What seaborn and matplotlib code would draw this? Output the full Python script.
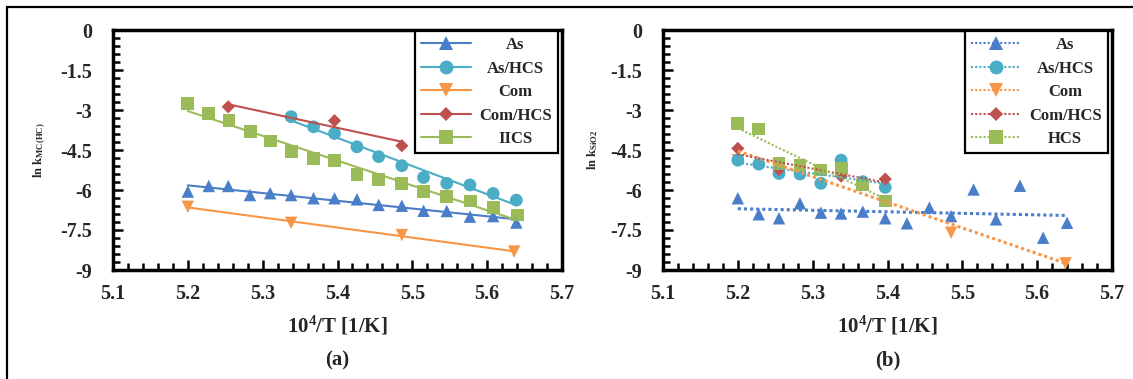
import numpy as np
import matplotlib
matplotlib.use("Agg")
import matplotlib.pyplot as plt
import seaborn as sns
from matplotlib.lines import Line2D
from matplotlib.patches import Rectangle
from matplotlib.ticker import MultipleLocator

# ---------------- data ----------------
series_names = ["As", "As/HCS", "Com", "Com/HCS", "HCS"]
legend_labels_a = ["As", "As/HCS", "Com", "Com/HCS", "IICS"]
legend_labels_b = ["As", "As/HCS", "Com", "Com/HCS", "HCS"]

# panel (a)
a_as_x = [5.200, 5.228, 5.254, 5.283, 5.310, 5.338, 5.368, 5.396, 5.426, 5.455, 5.486, 5.515, 5.546, 5.577, 5.608, 5.639]
a_as_y = [-6.06, -5.85, -5.85, -6.19, -6.12, -6.19, -6.31, -6.31, -6.35, -6.56, -6.59, -6.78, -6.79, -7.00, -6.98, -7.22]
a_ashcs_x = [5.338, 5.368, 5.396, 5.426, 5.455, 5.486, 5.515, 5.546, 5.577, 5.608, 5.639]
a_ashcs_y = [-3.25, -3.63, -3.88, -4.38, -4.75, -5.09, -5.53, -5.75, -5.81, -6.13, -6.38]
a_com_x = [5.200, 5.338, 5.486, 5.636]
a_com_y = [-6.63, -7.23, -7.69, -8.31]
a_comhcs_x = [5.254, 5.396, 5.486]
a_comhcs_y = [-2.88, -3.40, -4.34]
a_hcs_x = [5.200, 5.228, 5.255, 5.284, 5.310, 5.339, 5.368, 5.396, 5.426, 5.455, 5.486, 5.515, 5.546, 5.578, 5.608, 5.640]
a_hcs_y = [-2.75, -3.13, -3.40, -3.81, -4.16, -4.56, -4.81, -4.90, -5.41, -5.60, -5.75, -6.06, -6.25, -6.41, -6.65, -6.94]

# panel (b)
b_as_x = [5.200, 5.228, 5.255, 5.283, 5.311, 5.338, 5.367, 5.397, 5.426, 5.456, 5.485, 5.515, 5.545, 5.577, 5.608, 5.640]
b_as_y = [-6.31, -6.91, -7.06, -6.50, -6.85, -6.88, -6.81, -7.06, -7.25, -6.66, -6.98, -5.98, -7.10, -5.84, -7.79, -7.23]
b_ashcs_x = [5.200, 5.228, 5.255, 5.283, 5.311, 5.338, 5.367, 5.397]
b_ashcs_y = [-4.88, -5.03, -5.38, -5.40, -5.75, -4.88, -5.69, -5.90]
b_com_x = [5.200, 5.338, 5.485, 5.638]
b_com_y = [-4.88, -5.20, -7.60, -8.75]
b_comhcs_x = [5.200, 5.255, 5.338, 5.397]
b_comhcs_y = [-4.44, -5.23, -5.48, -5.59]
b_hcs_x = [5.200, 5.228, 5.255, 5.283, 5.311, 5.338, 5.367, 5.397]
b_hcs_y = [-3.50, -3.71, -5.00, -5.09, -5.25, -5.19, -5.81, -6.41]

x_ticks = [5.1, 5.2, 5.3, 5.4, 5.5, 5.6, 5.7]
y_ticks = [0, -1.5, -3, -4.5, -6, -7.5, -9]
y_ticklabels = ["0", "-1.5", "-3", "-4.5", "-6", "-7.5", "-9"]

# ---------------- style ----------------
sns.set_theme(style="white")
plt.rcParams["font.family"] = ["Liberation Serif", "DejaVu Serif"]
plt.rcParams["font.weight"] = "bold"
plt.rcParams["mathtext.fontset"] = "custom"
plt.rcParams["mathtext.rm"] = "Liberation Serif:bold"
plt.rcParams["mathtext.bf"] = "Liberation Serif:bold"
plt.rcParams["mathtext.it"] = "Liberation Serif:bold"

colors = ["#4A7EC9", "#4BACC6", "#F79646", "#C0504D", "#9BBB59"]
markers = ["^", "o", "v", "D", "s"]
msizes = [80, 85, 80, 45, 85]

fig = plt.figure(figsize=(11.33, 3.79), dpi=100)
fig.patch.set_facecolor("white")
fig.add_artist(Rectangle((7 / 1133, -0.1), 1.2, 1.1 - 7 / 379,
                         transform=fig.transFigure, fill=False,
                         edgecolor="black", linewidth=1.6))

ax_a = fig.add_axes([113 / 1133, 109 / 379, 449 / 1133, 240 / 379])
ax_b = fig.add_axes([663 / 1133, 109 / 379, 449 / 1133, 240 / 379])

data_a = [(a_as_x, a_as_y), (a_ashcs_x, a_ashcs_y), (a_com_x, a_com_y),
          (a_comhcs_x, a_comhcs_y), (a_hcs_x, a_hcs_y)]
data_b = [(b_as_x, b_as_y), (b_ashcs_x, b_ashcs_y), (b_com_x, b_com_y),
          (b_comhcs_x, b_comhcs_y), (b_hcs_x, b_hcs_y)]


def draw_panel(ax, data, dotted, labels, ylabel, panel_tag, ylab_x):
    for i, (xs, ys) in enumerate(data):
        z = 2 + i * 0.1
        if dotted and series_names[i] == "Com":
            z = 1.5
        sns.scatterplot(x=xs, y=ys, ax=ax, marker=markers[i], s=msizes[i],
                        color=colors[i], edgecolor="none", linewidth=0,
                        zorder=z, legend=False)
    for i, (xs, ys) in enumerate(data):
        if dotted:
            lw = 2.2 if series_names[i] in ("As", "Com") else 1.5
            ls = (0, (1, 1))
        else:
            lw = 1.5
            ls = "-"
        sns.regplot(x=np.array(xs), y=np.array(ys), ax=ax, scatter=False,
                    ci=None, color=colors[i],
                    line_kws=dict(lw=lw, ls=ls, zorder=4))

    ax.set_xlim(5.1, 5.7)
    ax.set_ylim(-9, 0)
    ax.set_xticks(x_ticks)
    ax.set_xticklabels([f"{v:.1f}" for v in x_ticks])
    ax.set_yticks(y_ticks)
    ax.set_yticklabels(y_ticklabels)
    ax.xaxis.set_minor_locator(MultipleLocator(0.02))
    ax.yaxis.set_minor_locator(MultipleLocator(0.3))
    ax.tick_params(axis="both", which="both", direction="in",
                   color="black", width=1.8, left=True, bottom=True,
                   top=False, right=False)
    ax.tick_params(axis="both", which="major", length=7, labelsize=14.5)
    ax.tick_params(axis="both", which="minor", length=5)
    ax.tick_params(axis="y", which="major", pad=15)
    ax.tick_params(axis="x", which="major", pad=10)
    for lab in ax.get_xticklabels() + ax.get_yticklabels():
        lab.set_fontweight("bold")
    for sp in ax.spines.values():
        sp.set_visible(True)
        sp.set_color("black")
        sp.set_linewidth(2.5)
    ax.set_facecolor("white")
    ax.grid(False)

    ax.set_xlabel("10$^{4}$/T [1/K]", fontsize=15, fontweight="bold", labelpad=7)
    ax.set_ylabel(ylabel, fontsize=9, fontweight="bold")
    ax.yaxis.set_label_coords(ylab_x, 0.5)
    ax.text(0.5, -0.335, panel_tag, transform=ax.transAxes, ha="center",
            va="top", fontsize=15, fontweight="bold")

    handles = []
    for i in range(len(series_names)):
        ls = (0, (1, 1)) if dotted else "-"
        handles.append(Line2D([], [], color=colors[i], ls=ls, lw=1.5,
                              marker=markers[i],
                              markersize=np.sqrt(msizes[i]) + 0.8,
                              markeredgewidth=0))
    leg = ax.legend(handles, labels, loc="upper right",
                    bbox_to_anchor=(0.99, 0.995), frameon=True,
                    fancybox=False, shadow=False, framealpha=1,
                    edgecolor="black", handlelength=3.0,
                    handletextpad=0.5, labelspacing=0.45, borderpad=0.35,
                    borderaxespad=0.0,
                    prop=dict(family="Liberation Serif", weight="bold", size=12))
    leg.get_frame().set_linewidth(1.6)
    leg.set_zorder(10)
    return leg


leg_a = draw_panel(ax_a, data_a, False, legend_labels_a,
                   "ln k$_{MC(HC)}$", "(a)", -0.145)
leg_b = draw_panel(ax_b, data_b, True, legend_labels_b,
                   "ln k$_{SiO2}$", "(b)", -0.14)

# centre the legend labels within their column, like the reference
fig.canvas.draw()
renderer = fig.canvas.get_renderer()
for leg in (leg_a, leg_b):
    texts = leg.get_texts()
    widths = [t.get_window_extent(renderer).width for t in texts]
    wmax = max(widths)
    for t, w in zip(texts, widths):
        t.set_position(((wmax - w) / 2, 0))

fig.savefig("out.png", dpi=100, facecolor="white")
